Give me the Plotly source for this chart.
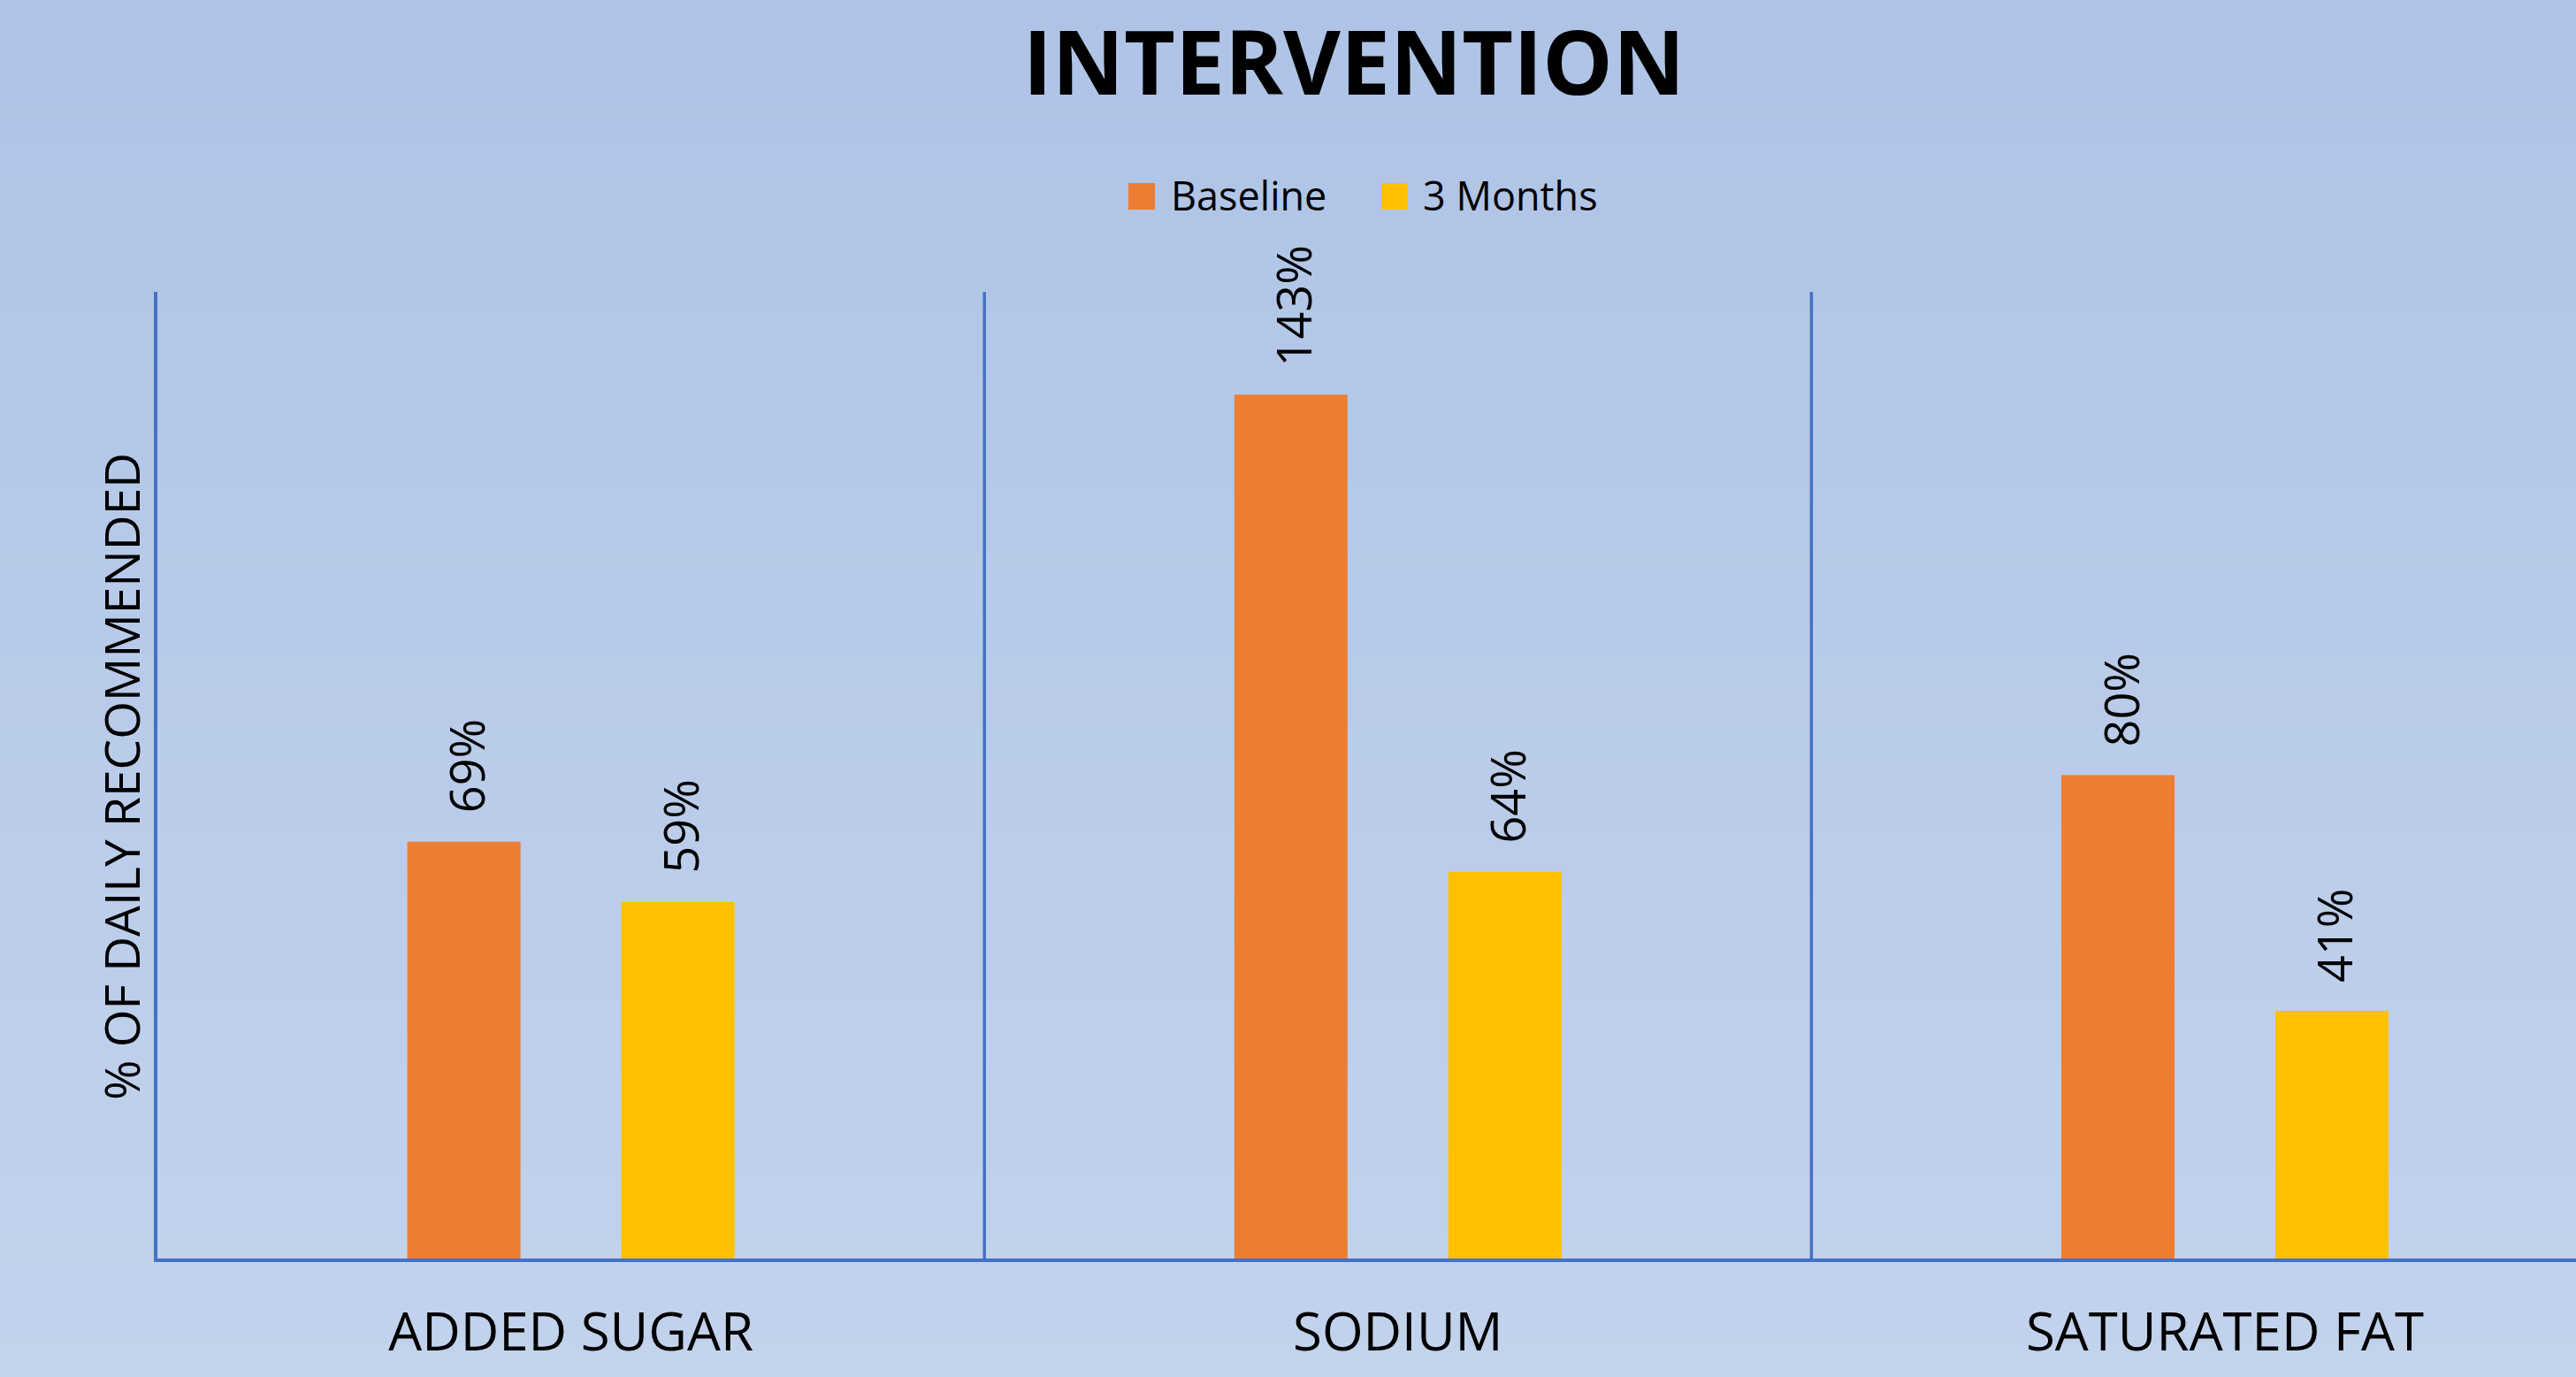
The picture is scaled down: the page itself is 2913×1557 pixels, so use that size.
import plotly.graph_objects as go

categories = ["ADDED SUGAR", "SODIUM", "SATURATED FAT"]
baseline = [69, 143, 80]
months3 = [59, 64, 41]
series_names = ["Baseline", "3 Months"]
series_colors = ["#ED7D31", "#FFC000"]
title_text = "INTERVENTION"
y_title = "% OF DAILY RECOMMENDED"

W, H = 2913, 1557
L, R, T, B = 178, 0, 330, 134
PW, PH = W - L - R, H - T - B
CAT_W = 935.2

FONT = "Open Sans"

def px_x(px):
    return (px - L) / PW

def px_y(py):
    return (H - B - py) / PH

fig = go.Figure()
for name, vals, col in zip(series_names, [baseline, months3], series_colors):
    fig.add_trace(go.Bar(
        x=categories, y=vals, name=name, marker=dict(color=col, line=dict(width=0)),
        showlegend=False, hoverinfo="x+y+name",
    ))

# background gradient strips
shapes = []
top_rgb = (174, 195, 230)
bot_rgb = (195, 211, 236)
N = 80
for i in range(N):
    t = (i + 0.5) / N
    c = tuple(round(top_rgb[k] + (bot_rgb[k] - top_rgb[k]) * t) for k in range(3))
    y0 = H * i / N
    y1 = H * (i + 1) / N + 1
    shapes.append(dict(type="rect", xref="paper", yref="paper", layer="below",
                       x0=px_x(0), x1=px_x(W), y0=px_y(y1), y1=px_y(y0),
                       fillcolor="rgb(%d,%d,%d)" % c, line=dict(width=0)))

# category separators
for xv in [0.5, 1.5, 2.5]:
    shapes.append(dict(type="line", xref="x", yref="paper", x0=xv, x1=xv, y0=0, y1=1,
                       line=dict(color="#4472C4", width=3.5), layer="above"))

# legend squares
leg_sq = [(1276, 1306), (1562, 1592)]
for (x0, x1), col in zip(leg_sq, series_colors):
    shapes.append(dict(type="rect", xref="paper", yref="paper",
                       x0=px_x(x0), x1=px_x(x1), y0=px_y(237), y1=px_y(207),
                       fillcolor=col, line=dict(width=0)))

annotations = []
for name, xl in zip(series_names, [1322, 1607]):
    annotations.append(dict(text=name, xref="paper", yref="paper", x=px_x(xl), y=px_y(221),
                            xanchor="left", yanchor="middle", showarrow=False,
                            font=dict(family=FONT, size=45, color="#000000")))

# data labels
bar_off = 121
for vals, xs in [(baseline, -bar_off), (months3, bar_off)]:
    for c, v in zip(categories, vals):
        annotations.append(dict(text="%d%%" % v, x=c, y=v, xref="x", yref="y",
                                xshift=xs + 2, yshift=30, xanchor="center", yanchor="bottom",
                                textangle=-90, showarrow=False,
                                font=dict(family=FONT, size=54, color="#000000")))

# y title
annotations.append(dict(text=y_title, xref="paper", yref="paper", x=px_x(136), y=px_y(878),
                        xanchor="center", yanchor="middle", textangle=-90, showarrow=False,
                        font=dict(family=FONT, size=55, color="#000000")))

slot = 2 * bar_off / CAT_W
bw = 128 / CAT_W

fig.update_layout(
    width=W, height=H,
    margin=dict(l=L, r=R, t=T, b=B, pad=0),
    paper_bgcolor="rgb(184,203,233)",
    plot_bgcolor="rgba(0,0,0,0)",
    barmode="group",
    bargap=1 - 2 * slot,
    bargroupgap=1 - bw / slot,
    title=dict(text="<b>%s</b>" % title_text, xref="container", yref="container",
               x=1531 / W, y=1 - 72 / H, xanchor="center", yanchor="middle",
               font=dict(family=FONT, size=100, color="#000000")),
    xaxis=dict(range=[-0.5, -0.5 + PW / CAT_W], showgrid=False, zeroline=False,
               showline=True, linecolor="#4472C4", linewidth=3.5, ticks="",
               tickfont=dict(family=FONT, size=60, color="#000000"),
               ticklabelstandoff=28, fixedrange=True),
    yaxis=dict(range=[0, 160], showgrid=False, zeroline=False, showticklabels=False,
               showline=True, linecolor="#4472C4", linewidth=3.5, ticks="", fixedrange=True),
    shapes=shapes,
    annotations=annotations,
    showlegend=False,
)

fig.write_html("out.html")
